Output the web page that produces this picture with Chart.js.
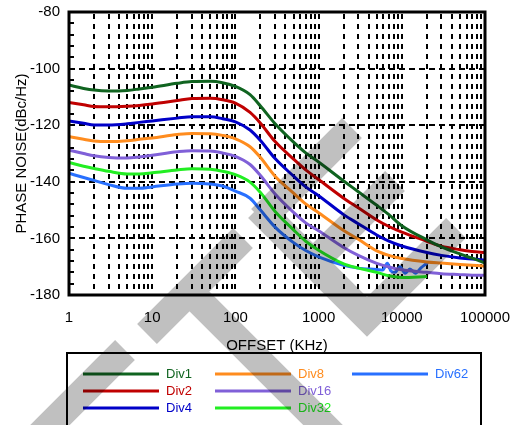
<!DOCTYPE html>
<html><head><meta charset="utf-8">
<script src="https://cdn.jsdelivr.net/npm/chart.js@4.4.1/dist/chart.umd.min.js"></script>
<style>html,body{margin:0;padding:0;background:#fff}canvas{display:block}</style>
</head><body>
<canvas id="c" width="513" height="425"></canvas>
<script>
// ---- data ----
const FREQ = [1,1.5,2,3,5,7,10,20,30,50,70,100,150,200,300,500,700,1000,2000,3000,5000,7000,10000,20000,30000,50000,70000,100000];
const X_TICKS = [1,10,100,1000,10000,100000];
const SERIES_NAMES = ['Div1','Div2','Div4','Div8','Div16','Div32','Div62'];
const DIV1  = [-105.8,-107,-107.6,-107.9,-107.7,-107.2,-106.6,-105.2,-104.6,-104.5,-105,-106.3,-109.2,-113.2,-119.5,-126,-129.8,-133,-139.7,-143.5,-148.3,-151.6,-155.5,-160.5,-163,-165.5,-167,-168.7];
const DIV2  = [-112,-112.8,-113.4,-113.5,-113.3,-113,-112.5,-111.3,-110.6,-110.5,-111,-112.2,-115.5,-119.3,-125.8,-132,-135.8,-139.2,-145.8,-149.2,-153.5,-155.8,-157.8,-161,-162.8,-164,-164.6,-165];
const DIV4  = [-118.5,-119.3,-119.9,-119.9,-119.5,-119,-118.5,-117.5,-117,-117,-117.7,-118.8,-121.7,-125.4,-131.8,-138,-141.8,-144.9,-151.6,-154.8,-158.8,-161,-162.7,-165,-166,-166.9,-167.3,-167.6];
const DIV8  = [-124,-125,-125.6,-125.8,-125.5,-125,-124.5,-123.3,-122.9,-123,-123.6,-124.8,-127.6,-131.4,-138,-144,-147.8,-150.9,-157.2,-160.3,-164.4,-166,-167.1,-168.3,-168.7,-169.2,-169.5,-169.8];
const DIV16 = [-128.8,-130,-130.8,-131.4,-131.6,-131.2,-130.6,-129.4,-129,-129.1,-129.8,-131,-133.9,-137.8,-144.3,-150.8,-154.5,-157.3,-163.2,-166,-168.8,-170.1,-171.1,-172,-172.5,-172.8,-173,-173];
const DIV32 = [-133.2,-134.5,-135.3,-136.3,-137.2,-137.2,-136.8,-135.8,-135.4,-135.6,-136.3,-137.5,-140.1,-143.8,-150.5,-157,-161,-164.2,-169,-170.5,-172,-173.2,-173.8,-173.5];
const DIV62 = [-137,-138.5,-139.5,-141,-142.3,-142.3,-141.8,-140.8,-140.5,-140.8,-141.5,-143.3,-145.8,-150,-156,-161.5,-164.3,-166.5,-169.5,-170.5,-171];
const DIV62_TAIL_FREQ = [5900,6700,7400,8300,9500,11000,12500,14600,17000,19900,20600];
const DIV62_TAIL      = [-171.2,-168.8,-171.5,-172,-170,-172.3,-170.8,-172.3,-170.4,-168.8,-168.4];

// ---- style ----
const COLORS = ['#106420','#c00000','#0000c8','#ff8c1e','#8060d8','#22ee22','#2870ff'];
const FONT = "Arial, 'Liberation Sans', sans-serif";
Chart.defaults.font.family = FONT;
Chart.defaults.color = '#000';

const pts = (vals, freqs) => vals.map((v, i) => ({x: freqs[i], y: v}));
const SERIES = [
  pts(DIV1, FREQ), pts(DIV2, FREQ), pts(DIV4, FREQ), pts(DIV8, FREQ),
  pts(DIV16, FREQ), pts(DIV32, FREQ),
  pts(DIV62, FREQ).concat(pts(DIV62_TAIL, DIV62_TAIL_FREQ))
];

const gridPlugin = {
  id: 'gridDraw',
  beforeDatasetsDraw(chart) {
    const {ctx, chartArea: a, scales: {x, y}} = chart;
    ctx.save();
    ctx.strokeStyle = '#000';
    ctx.lineWidth = 2;
    ctx.setLineDash([5, 5]);
    for (let d = 1; d < 100000; d *= 10) {
      for (let k = 1; k < 10; k++) {
        const v = d * k;
        if (v <= 1 || v >= 100000) continue;
        const px = Math.round(x.getPixelForValue(v));
        ctx.beginPath(); ctx.moveTo(px, a.top + 2); ctx.lineTo(px, a.bottom); ctx.stroke();
      }
    }
    ctx.setLineDash([6, 4]);
    for (let v = -160; v <= -100; v += 20) {
      const py = Math.round(y.getPixelForValue(v));
      ctx.beginPath(); ctx.moveTo(a.left, py); ctx.lineTo(a.right, py); ctx.stroke();
    }
    ctx.setLineDash([]);
    for (let v = -176; v <= -84; v += 4) {
      const py = Math.round(y.getPixelForValue(v));
      ctx.beginPath(); ctx.moveTo(a.left, py); ctx.lineTo(a.left + 5, py); ctx.stroke();
    }
    ctx.restore();
  }
};

const framePlugin = {
  id: 'frameDraw',
  afterDatasetsDraw(chart) {
    const {ctx, chartArea: a} = chart;
    ctx.save();
    ctx.strokeStyle = '#000';
    ctx.lineWidth = 3;
    ctx.strokeRect(a.left, a.top, a.right - a.left, a.bottom - a.top);
    ctx.restore();
  }
};

const legendPlugin = {
  id: 'legendDraw',
  afterDraw(chart) {
    const {ctx} = chart;
    const colX = [83, 215, 352], rowY = [374, 391, 408];
    ctx.save();
    ctx.strokeStyle = '#000'; ctx.lineWidth = 2;
    ctx.strokeRect(67, 353, 414, 100);
    ctx.font = '13px ' + FONT;
    ctx.textBaseline = 'middle'; ctx.textAlign = 'left';
    chart.data.datasets.forEach((ds, i) => {
      const cx = colX[Math.floor(i / 3)], cy = rowY[i % 3];
      ctx.strokeStyle = ds.borderColor; ctx.lineWidth = 3;
      ctx.beginPath(); ctx.moveTo(cx, cy); ctx.lineTo(cx + 76, cy); ctx.stroke();
      ctx.fillStyle = ds.borderColor;
      ctx.fillText(ds.label, cx + 83, cy + 0.5);
    });
    ctx.restore();
  }
};

// decorative watermark (not data)
const WATERMARK = [
  [[0,475],[125,350]],
  [[147,334],[243,238]],
  [[261,219],[352,128]],
  [[313,263],[395,181]],
  [[258,208],[367,317],[456,228]],
  [[190,292],[340,442]]
];
const watermarkPlugin = {
  id: 'watermark',
  afterDraw(chart) {
    const {ctx} = chart;
    ctx.save();
    ctx.globalCompositeOperation = 'multiply';
    ctx.strokeStyle = '#c0c0c0';
    ctx.lineWidth = 28;
    ctx.lineCap = 'butt';
    ctx.lineJoin = 'miter';
    ctx.beginPath();
    WATERMARK.forEach(seg => {
      ctx.moveTo(seg[0][0], seg[0][1]);
      for (let i = 1; i < seg.length; i++) ctx.lineTo(seg[i][0], seg[i][1]);
    });
    ctx.stroke();
    ctx.restore();
  }
};

new Chart(document.getElementById('c'), {
  type: 'line',
  data: {
    datasets: SERIES.map((d, i) => ({
      label: SERIES_NAMES[i], data: d, borderColor: COLORS[i], backgroundColor: COLORS[i],
      borderWidth: 3, pointRadius: 0, fill: false, cubicInterpolationMode: 'monotone'
    }))
  },
  options: {
    responsive: false, animation: false, devicePixelRatio: 1,
    layout: {padding: {top: 12, right: 28, bottom: 73, left: 0}},
    plugins: {legend: {display: false}, tooltip: {enabled: false}},
    scales: {
      x: {
        type: 'logarithmic', min: 1, max: 100000,
        afterBuildTicks: s => { s.ticks = X_TICKS.map(v => ({value: v, major: true})); },
        afterFit: s => { s.height = 57; s.paddingLeft = 0; s.paddingRight = 0; },
        ticks: {font: {size: 15}, color: '#000', maxRotation: 0, autoSkip: false, padding: 14,
                callback: v => String(v)},
        grid: {display: false, drawTicks: false},
        border: {display: false},
        title: {display: true, text: 'OFFSET (KHz)', font: {size: 15}, color: '#000', padding: {top: 0, bottom: -3}}
      },
      y: {
        min: -180, max: -80,
        afterFit: s => { s.width = 69; s.paddingTop = 0; s.paddingBottom = 0; },
        ticks: {stepSize: 20, font: {size: 15}, color: '#000', padding: 9},
        grid: {display: false, drawTicks: false},
        border: {display: false},
        title: {display: true, text: 'PHASE NOISE(dBc/Hz)', font: {size: 15}, color: '#000', padding: {top: 13, bottom: 0}}
      }
    }
  },
  plugins: [gridPlugin, framePlugin, legendPlugin, watermarkPlugin]
});
</script>
</body></html>
